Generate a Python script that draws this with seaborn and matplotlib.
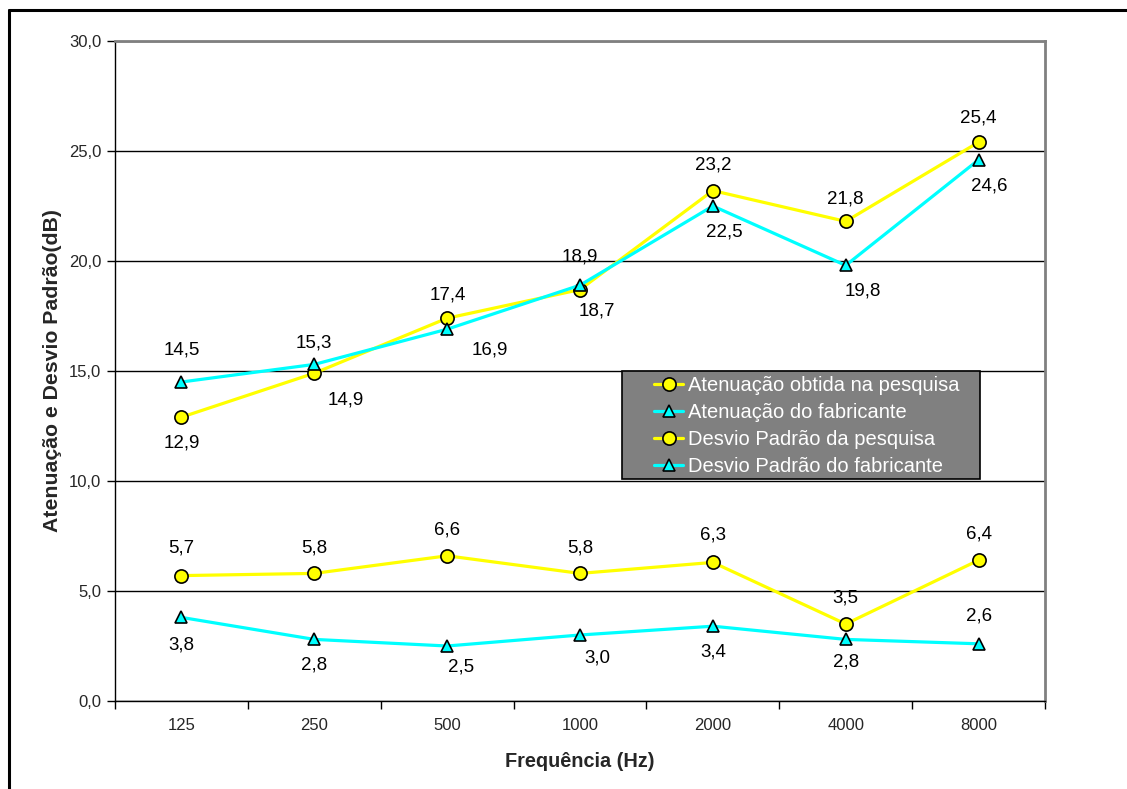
import matplotlib
matplotlib.use("Agg")
import matplotlib.pyplot as plt
from matplotlib.lines import Line2D
from matplotlib.patches import Rectangle
from matplotlib.legend_handler import HandlerLine2D
from matplotlib.ticker import FixedLocator, FuncFormatter
import seaborn as sns
import pandas as pd
import numpy as np

# Frequency bands (Hz)
frequencias = ["125", "250", "500", "1000", "2000", "4000", "8000"]

# Attenuation and standard deviation values (dB)
aten_pesquisa = [12.9, 14.9, 17.4, 18.7, 23.2, 21.8, 25.4]
aten_fabricante = [14.5, 15.3, 16.9, 18.9, 22.5, 19.8, 24.6]
desvio_pesquisa = [5.7, 5.8, 6.6, 5.8, 6.3, 3.5, 6.4]
desvio_fabricante = [3.8, 2.8, 2.5, 3.0, 3.4, 2.8, 2.6]

nomes = [
    "Atenuação obtida na pesquisa",
    "Atenuação do fabricante",
    "Desvio Padrão da pesquisa",
    "Desvio Padrão do fabricante",
]

# Label offsets in pixels (dx, dy) for each value label
off_aten_pesq = [(0, -26), (31, -27), (1, 23), (17, -21), (0, 26), (0, 22), (0, 24)]
off_aten_fab = [(0, 32), (0, 21), (43, -21), (0, 28), (11, -26), (17, -26), (11, -26)]
off_desv_pesq = [(0, 28), (0, 25), (0, 26), (0, 25), (0, 27), (0, 26), (0, 26)]
off_desv_fab = [(0, -28), (0, -26), (14, -21), (17, -23), (0, -26), (0, -23), (0, 28)]

sns.set_style("white")
plt.rcParams["font.family"] = ["Liberation Sans", "DejaVu Sans"]

W, H = 1127, 789
fig = plt.figure(figsize=(W / 100, H / 100), dpi=100)
ax = fig.add_axes([115 / W, 1 - 701 / H, 930 / W, 660 / H])

x = np.arange(len(frequencias))
series = [
    (aten_pesquisa, "#FFFF00", "o", off_aten_pesq),
    (aten_fabricante, "#00FFFF", "^", off_aten_fab),
    (desvio_pesquisa, "#FFFF00", "o", off_desv_pesq),
    (desvio_fabricante, "#00FFFF", "^", off_desv_fab),
]

for (vals, cor, mk, offs), nome in zip(series, nomes):
    df = pd.DataFrame({"x": x, "y": vals})
    sns.lineplot(data=df, x="x", y="y", ax=ax, color=cor, lw=2.3,
                 marker=mk, markersize=9.5 if mk == "o" else 9,
                 markerfacecolor=cor, markeredgecolor="black",
                 markeredgewidth=1.2, label=nome, zorder=3)
    for xi, v, (dx, dy) in zip(x, vals, offs):
        ax.annotate(f"{v:.1f}".replace(".", ","), (xi, v),
                    xytext=(dx, dy), textcoords="offset pixels",
                    ha="center", va="center", fontsize=13.5, color="black")

ax.set_xlim(-0.5, len(frequencias) - 0.5)
ax.set_ylim(0, 30)

# Category labels centered, tick marks on category boundaries
ax.xaxis.set_major_locator(FixedLocator(np.arange(-0.5, len(frequencias), 1.0)))
ax.xaxis.set_minor_locator(FixedLocator(x))
ax.set_xticklabels([])
ax.set_xticklabels(frequencias, minor=True)
ax.tick_params(axis="x", which="major", length=6, width=1, color="black",
               direction="out", bottom=True)
ax.tick_params(axis="x", which="minor", length=0, pad=12, labelsize=12)

ax.set_yticks(np.arange(0, 31, 5))
ax.yaxis.set_major_formatter(FuncFormatter(lambda v, p: f"{v:.1f}".replace(".", ",")))
ax.tick_params(axis="y", length=6, width=1, color="black", direction="out",
               left=True, labelsize=12, pad=4)

ax.grid(axis="y", color="black", lw=1)
ax.grid(axis="x", visible=False)
ax.set_axisbelow(True)

for s in ["left", "bottom"]:
    ax.spines[s].set_color("black")
    ax.spines[s].set_linewidth(1)
for s in ["top", "right"]:
    ax.spines[s].set_color("#808080")
    ax.spines[s].set_linewidth(2)

ax.set_xlabel("Frequência (Hz)", fontsize=14.3, fontweight="bold", labelpad=14)
ax.set_ylabel("Atenuação e Desvio Padrão(dB)", fontsize=15.3, fontweight="bold", labelpad=5)


class InsetLineHandler(HandlerLine2D):
    """Line + marker handle drawn in the right part of the handle box."""

    def __init__(self, inset, **kw):
        super().__init__(marker_pad=0, **kw)
        self.inset = inset

    def create_artists(self, legend, orig_handle, xdescent, ydescent, width,
                       height, fontsize, trans):
        return super().create_artists(legend, orig_handle, xdescent - self.inset,
                                      ydescent, width - self.inset, height,
                                      fontsize, trans)


# Legend panel background
ax.add_patch(Rectangle((622 / W, 1 - 479 / H), 358 / W, 108 / H,
                       transform=fig.transFigure, facecolor="#808080",
                       edgecolor="black", lw=1.2, zorder=4, clip_on=False))

handles, labels = ax.get_legend_handles_labels()
leg = ax.legend(handles, labels, loc="upper left",
                bbox_to_anchor=(621 / W, 1 - 376 / H),
                bbox_transform=fig.transFigure, frameon=False,
                fontsize=14.5, handlelength=3.08, handletextpad=0.25,
                borderpad=0, labelspacing=0.4, borderaxespad=0,
                handler_map={h: InsetLineHandler(24) for h in handles})
leg.set_zorder(5)
for t in leg.get_texts():
    t.set_color("white")

# Outer chart border (left and top)
fig.add_artist(Line2D([9 / W, 9 / W], [0, 1 - 10 / H], color="black",
                      lw=2.2, transform=fig.transFigure))
fig.add_artist(Line2D([9 / W, 1], [1 - 10 / H, 1 - 10 / H], color="black",
                      lw=2.2, transform=fig.transFigure))

fig.savefig("out.png", dpi=100)
